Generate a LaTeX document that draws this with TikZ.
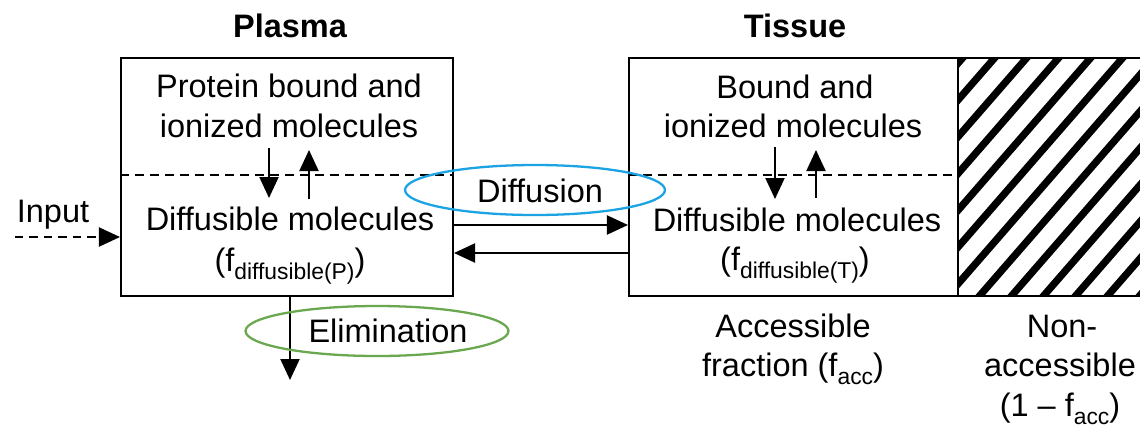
\documentclass[tikz,border=0pt]{standalone}
\usepackage{fontspec}
\setmainfont{Liberation Sans}
\usetikzlibrary{arrows.meta,shapes.geometric}

\definecolor{diffBlue}{HTML}{1BA3E3}
\definecolor{elimGreen}{HTML}{6AA84F}
\newcommand{\subTxt}[1]{\raisebox{-0.5ex}{\fontsize{13}{15}\selectfont #1}}

\begin{document}
\begin{tikzpicture}[x=0.02cm, y=-0.02cm, font=\fontsize{18.5}{22.8}\selectfont,
	box/.style={draw, line width=1.2pt, inner sep=0pt},
	tipArrow/.style={line width=1.2pt, -{Triangle[length=0.42cm, width=0.38cm]}},
	dashLine/.style={line width=1.2pt, dash pattern=on 0.18cm off 0.12cm},
	txt/.style={anchor=base, inner sep=0pt},
	ring/.style={ellipse, draw, line width=1.3pt, inner sep=0pt}]
		\newcommand{\stripeGap}{32}
		\newcommand{\stripeRun}{228}
		
		\useasboundingbox (0,0) rectangle (1140,427);		% canvas
		
		% titles
		\node[txt, font=\fontsize{18.5}{22.8}\selectfont\bfseries] (plasmaTitle) at (290,37) {Plasma};
		\node[txt, font=\fontsize{18.5}{22.8}\selectfont\bfseries] (tissueTitle) at (795,37) {Tissue};
		
		% compartments
		\node[box, minimum width=6.64cm, minimum height=4.76cm] (plasma) at (287,177) {};
		\node[box, minimum width=6.58cm, minimum height=4.76cm] (tissue) at (793.5,177) {};
		\begin{scope}
			\clip (958,58) rectangle (1142,296);		% non accessible part
			\foreach \k in {-1,...,13}
				\draw[line width=0.145cm] ({745+\stripeGap*\k},308) -- ({745+\stripeRun+\stripeGap*\k},46);
		\end{scope}
		\node[box, minimum width=3.68cm, minimum height=4.76cm] (nonAcc) at (1050,177) {};
		
		% bound / free border
		\draw[dashLine] (plasma.west |- 0,175) -- (plasma.east |- 0,175);
		\draw[dashLine] (tissue.west |- 0,175) -- (tissue.east |- 0,175);
		
		% plasma texts
		\node[txt] (pBound) at (289,97) {Protein bound and};
		\node[txt] (pIon) at (289,137) {ionized molecules};
		\node[txt] (pDiff) at (290,230) {Diffusible molecules};
		\node[txt] (pFrac) at (290,271) {(f\subTxt{diffusible(P)})};
		
		% tissue texts
		\node[txt] (tBound) at (795,98) {Bound and};
		\node[txt] (tIon) at (793,137) {ionized molecules};
		\node[txt] (tDiff) at (797,231) {Diffusible molecules};
		\node[txt] (tFrac) at (795,270) {(f\subTxt{diffusible(T)})};
		
		% labels below
		\node[txt] (accA) at (793,337) {Accessible};
		\node[txt] (accB) at (793,376) {fraction (f\subTxt{acc})};
		\node[txt] (nonA) at (1062,337) {Non-};
		\node[txt] (nonB) at (1060,376) {accessible};
		\node[txt] (nonC) at (1060,416) {(1 -- f\subTxt{acc})};
		\node[txt] (inputLbl) at (53,222) {Input};
		
		% exchange arrows
		\coordinate (pDownA) at (269,148);
		\coordinate (pDownB) at (269,198);
		\coordinate (pUpA) at (309,199);
		\coordinate (pUpB) at (309,150);
		\coordinate (tDownA) at (775,147);
		\coordinate (tDownB) at (775,199);
		\coordinate (tUpA) at (816,198);
		\coordinate (tUpB) at (816,150);
		\draw[tipArrow] (pDownA) -- (pDownB);
		\draw[tipArrow] (pUpA) -- (pUpB);
		\draw[tipArrow] (tDownA) -- (tDownB);
		\draw[tipArrow] (tUpA) -- (tUpB);
		
		% diffusion
		\draw[tipArrow] (plasma.east |- 0,225) -- (tissue.west |- 0,225);
		\draw[tipArrow] (tissue.west |- 0,253) -- (plasma.east |- 0,253);
		
		% input and elimination
		\coordinate (inputStart) at (15,237);
		\coordinate (elimEnd) at (290,380);
		\draw[tipArrow, dash pattern=on 0.17cm off 0.12cm] (inputStart) -- (plasma.west |- inputStart);
		\draw[tipArrow] (plasma.south -| elimEnd) -- (elimEnd);
		
		% highlights
		\node[ring, draw=diffBlue, minimum width=5.2cm, minimum height=1.0cm] (diffRing) at (535,190) {};
		\node[txt] (diffLbl) at (540,202) {Diffusion};
		\node[ring, draw=elimGreen, minimum width=5.26cm, minimum height=1.0cm] (elimRing) at (377,331) {};
		\node[txt] (elimLbl) at (388,342) {Elimination};
		
\end{tikzpicture}
\end{document}
